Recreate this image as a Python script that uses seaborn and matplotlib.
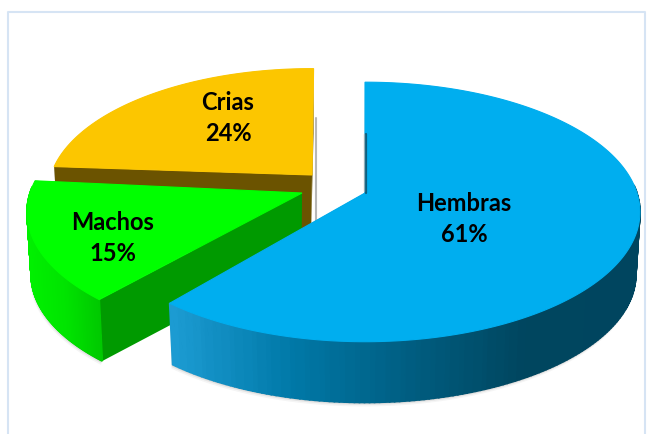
import numpy as np
import pandas as pd
import matplotlib
matplotlib.use("Agg")
import matplotlib.pyplot as plt
import seaborn as sns

# datos del grafico
categorias = ["Hembras", "Machos", "Crias"]
porcentajes = [61, 15, 24]
colores_cara = ["#00aeef", "#00ff00", "#fcc600"]
colores_corte = ["#00597a", "#009a00", "#6b5300"]
bordes = [["#1c9bd2", "#0079a8", "#005e82", "#00465f", "#00455f"],
          ["#00f000", "#00e400", "#00c800"],
          ["#6b5300", "#6b5300"]]

# posicion de cada porcion (en pixeles de la figura)
vertices = [(365, 193), (302, 193), (312, 175)]
escalas = [1.0, 1.0, 0.96]
giros = [0, 2, 0.4]
pos_etiquetas = [(464, 219), (113, 238), (228, 118)]

RX, RY = 272, 127
K = 0.146      # perspectiva
ALTO = 63


def proyectar(vertice, escala, theta, z=0.0, r=1.0):
    x = r * np.sin(theta)
    y = r * np.cos(theta)
    s = escala / (1 + K * y)
    return vertice[0] + RX * x * s, vertice[1] - RY * y * s + z


def dibujar_porcion(ax, i, ini, fin, base):
    v, esc = vertices[i], escalas[i]
    t = np.linspace(ini, fin, 240)
    xs, ys = proyectar(v, esc, t)
    xb, yb = proyectar(v, esc * 0.985, t, ALTO)

    # sombra suave debajo del borde
    for d, a in [(4, 0.06), (2.5, 0.10), (1.2, 0.18)]:
        ax.fill(np.r_[xs, xb[::-1] - d * 0.3], np.r_[ys, yb[::-1] + d], color="#555555", alpha=a, lw=0, zorder=base)

    # caras de los cortes
    for ang in (ini, fin):
        px, py = proyectar(v, esc, ang)
        qx, qy = proyectar(v, esc * 0.985, ang, ALTO)
        ax.fill([v[0], px, qx, v[0] - 1], [v[1], py, qy, v[1] + ALTO], color=colores_corte[i], lw=0, zorder=base + 1)

    # borde con degradado segun x
    pal = sns.blend_palette(bordes[i], 64)
    lim = (xs.min(), xs.max())
    # solo la parte delantera se ve, la de atras queda tapada por la cara superior
    for a in range(len(t) - 1):
        if np.cos(t[a]) > 0.05 and np.cos(t[a + 1]) > 0.05:
            continue
        c = pal[int(63 * (xs[a] - lim[0]) / (lim[1] - lim[0]))]
        ax.fill([xs[a], xs[a + 1], xb[a + 1], xb[a]], [ys[a], ys[a + 1], yb[a + 1], yb[a]],
                facecolor=c, edgecolor=c, lw=1.2, zorder=base + 2)

    # cara superior
    ax.fill(np.r_[v[0], xs], np.r_[v[1], ys], facecolor=colores_cara[i], edgecolor=colores_cara[i],
            lw=0.8, zorder=base + 3)


sns.set_theme(style="white")
plt.rcParams['font.family'] = ['Lato', 'DejaVu Sans']

df = pd.DataFrame({"categoria": categorias, "pct": porcentajes, "giro": np.radians(giros)})
df["fin"] = df["pct"].cumsum() / df["pct"].sum() * 2 * np.pi
df["ini"] = df["fin"].shift(1).fillna(0)

fig = plt.figure(figsize=(6.47, 4.34), dpi=100)
ax = fig.add_axes([0, 0, 1, 1])
ax.set_xlim(0, 647)
ax.set_ylim(434, 0)
ax.axis("off")

# marco del area del grafico
ax.plot([8, 8, 645, 645], [434, 12, 12, 434], color="#d6e4f4", lw=1.5, zorder=0)

# sombras finas junto a los cortes verticales
xc, yc = proyectar(vertices[2], escalas[2], 2 * np.pi, r=0.5)
ax.plot([xc + 4, vertices[2][0] + 4], [yc, vertices[2][1] + ALTO - 5], color="#999999", lw=1.5, alpha=0.7, zorder=1)

# atras hacia adelante: Crias, Machos, Hembras
for orden, i in enumerate([2, 1, 0]):
    dibujar_porcion(ax, i, df.loc[i, "ini"] + df.loc[i, "giro"], df.loc[i, "fin"] + df.loc[i, "giro"], 10 * (orden + 1))

xh, yh = proyectar(vertices[0], escalas[0], 0, r=0.5)
ax.plot([xh + 0.5, vertices[0][0] + 0.5], [yh, vertices[0][1]], color="#0a5f80", lw=1.6, zorder=40)
ax.plot([xh - 1.5, vertices[0][0] - 1.5], [yh, vertices[0][1] - 2], color="#aaaaaa", lw=1.0, alpha=0.7, zorder=40)

for i, (x, y) in enumerate(pos_etiquetas):
    ax.text(x, y, f"{df.loc[i, 'categoria']}\n{df.loc[i, 'pct']}%", ha="center", va="center",
            fontsize=17, fontweight="bold", color="black", linespacing=1.4, zorder=50)

fig.savefig("out.png", dpi=100, facecolor="white")
